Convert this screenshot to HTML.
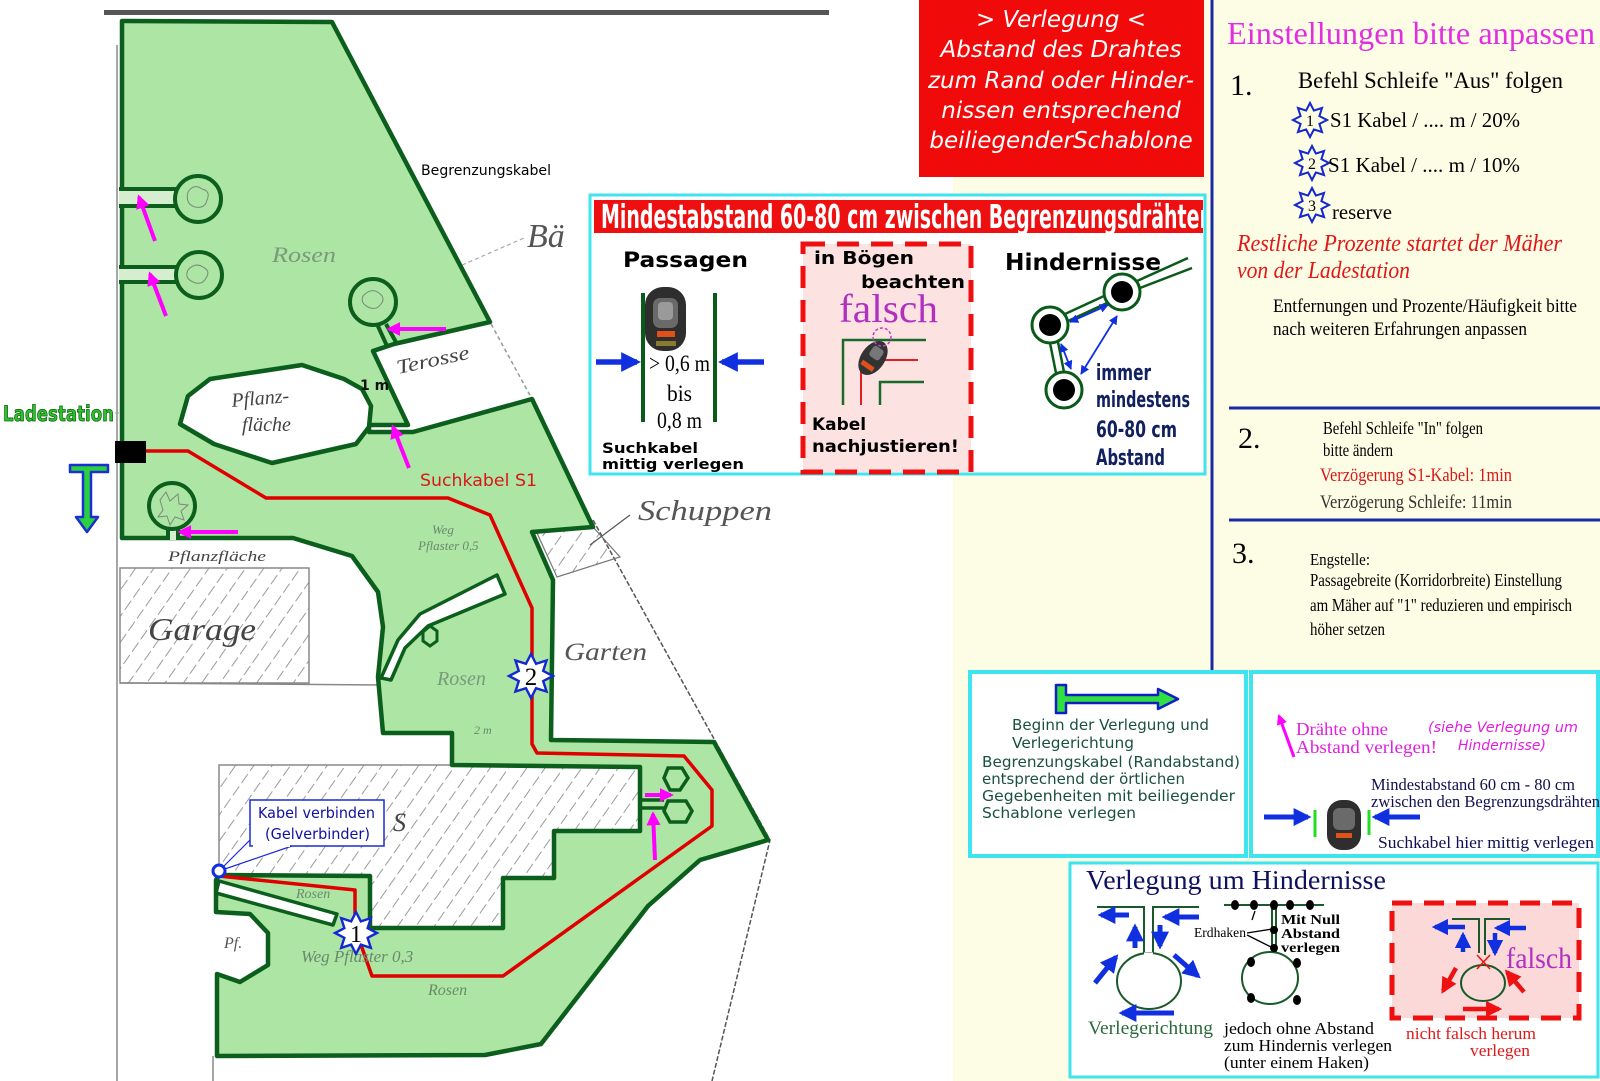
<!DOCTYPE html>
<html><head><meta charset="utf-8"><title>Verlegeplan</title>
<style>
html,body{margin:0;padding:0;background:#fff;width:1600px;height:1081px;overflow:hidden}
svg{display:block}
.hw{font-family:"Liberation Serif",serif;font-style:italic;fill:#666}
.sv{font-family:"DejaVu Sans","Liberation Sans",sans-serif}
.sf{font-family:"Liberation Serif",serif}
</style></head><body>
<svg width="1600" height="1081" viewBox="0 0 1600 1081" xmlns="http://www.w3.org/2000/svg">
<defs>
<pattern id="hatch" patternUnits="userSpaceOnUse" width="15" height="15" patternTransform="rotate(35)">
<line x1="2" y1="0" x2="2" y2="15" stroke="#9a9a9a" stroke-width="1" stroke-dasharray="8,4"/>
</pattern>
<marker id="aM" viewBox="0 0 10 10" refX="8" refY="5" markerWidth="3.5" markerHeight="3.5" orient="auto"><path d="M0,0L10,5L0,10z" fill="#ff00ff"/></marker>
<marker id="aB" viewBox="0 0 10 10" refX="8" refY="5" markerWidth="3.6" markerHeight="3.6" orient="auto"><path d="M0,0L10,5L0,10z" fill="#1030e0"/></marker>
<marker id="aR" viewBox="0 0 10 10" refX="8" refY="5" markerWidth="3.6" markerHeight="3.6" orient="auto"><path d="M0,0L10,5L0,10z" fill="#ee1111"/></marker>
<marker id="aBt" viewBox="0 0 10 10" refX="9" refY="5" markerWidth="5" markerHeight="5" orient="auto-start-reverse"><path d="M0,0L10,5L0,10z" fill="#1030e0"/></marker>
<polygon id="star" points="0,-20 4.59,-11.09 14.14,-14.14 11.09,-4.59 20,0 11.09,4.59 14.14,14.14 4.59,11.09 0,20 -4.59,11.09 -14.14,14.14 -11.09,4.59 -20,0 -11.09,-4.59 -14.14,-14.14 -4.59,-11.09"/>
<clipPath id="cT"><rect x="594" y="200" width="609" height="33"/></clipPath>
</defs>

<!-- backgrounds -->
<rect width="1600" height="1081" fill="#fff"/>
<rect x="953" y="177" width="647" height="904" fill="#fdfce4"/>
<rect x="1204" y="0" width="396" height="177" fill="#fdfce4"/>

<!-- gray bar -->
<rect x="104" y="10" width="725" height="5" fill="#555"/>

<!-- ===== MAP background sketch ===== -->
<line x1="117" y1="45" x2="117" y2="1081" stroke="#888" stroke-width="1.5"/>
<line x1="213" y1="1056" x2="213" y2="1081" stroke="#888" stroke-width="1.5"/>
<polyline points="459,262 490,322 532,399" fill="none" stroke="#999" stroke-width="1.5" stroke-dasharray="4,3"/>
<polyline points="593,520 770,840 712,1081" fill="none" stroke="#555" stroke-width="1.5" stroke-dasharray="5,2"/>
<line x1="398" y1="293" x2="524" y2="238" stroke="#aaa" stroke-width="1.2" stroke-dasharray="4,3"/>
<line x1="115" y1="413" x2="185" y2="413" stroke="#aaa" stroke-width="1.2" stroke-dasharray="4,3"/>
<!-- garage -->
<rect x="120" y="568" width="189" height="115" fill="url(#hatch)" stroke="#888" stroke-width="1.5"/>
<line x1="120" y1="683" x2="383" y2="685" stroke="#888" stroke-width="1.5"/>
<!-- house S -->
<polygon points="219,765 640,765 640,831 554,831 554,878 503,878 503,928 370,928 370,876 219,876" fill="url(#hatch)" stroke="#888" stroke-width="1.5"/>
<!-- schuppen -->
<polygon points="537,533 593,527 620,557 557,577" fill="url(#hatch)" stroke="#777" stroke-width="1.2"/>
<line x1="505" y1="590" x2="553" y2="575" stroke="#777" stroke-width="1.2"/>
<line x1="508" y1="598" x2="553" y2="585" stroke="#777" stroke-width="1.2"/>
<line x1="630" y1="515" x2="590" y2="545" stroke="#555" stroke-width="1.2"/>

<!-- lawn -->
<polygon points="122,21 332,22 490,322 394,344 373,351 408,425 369,425 369,432 413,432 532,399 593,527 532,532 553,580 551,740 714,742 768,840 700,860 648,906 541,1044 485,1055 217,1056 217,974 240,982 268,965 268,933 250,914 216,912 216,880 219,875 370,876 370,928 503,928 503,878 554,878 554,831 640,831 640,767 452,765 452,733 383,733 378,677 383,627 378,592 352,556 293,538 122,538" fill="#ace5a4" stroke="#0b5e1b" stroke-width="4.5" stroke-linejoin="round"/>

<!-- holes -->
<polygon points="180,424 188,396 210,379 302,365 344,379 362,389 371,406 369,427 356,444 272,463 214,444" fill="#fff" stroke="#0b5e1b" stroke-width="4.5" stroke-linejoin="round"/>
<polygon points="219,881 337,914 333,925 216,893" fill="#fff" stroke="#0b5e1b" stroke-width="3.5" stroke-linejoin="round"/>
<polygon points="381,678 398,640 420,614 497,575 505,594 428,626 405,648 391,680" fill="#fff" stroke="#0b5e1b" stroke-width="3.5" stroke-linejoin="round"/>

<!-- tree channels & circles -->
<rect x="119" y="190" width="58" height="15" fill="#d6eed0"/>
<line x1="119" y1="189" x2="177" y2="189" stroke="#0b5e1b" stroke-width="4"/>
<line x1="119" y1="206" x2="177" y2="206" stroke="#0b5e1b" stroke-width="4"/>
<circle cx="198" cy="199" r="23" fill="#ace5a4" stroke="#0b5e1b" stroke-width="4"/>
<rect x="119" y="268" width="58" height="13" fill="#d6eed0"/>
<line x1="119" y1="267" x2="177" y2="267" stroke="#0b5e1b" stroke-width="4"/>
<line x1="119" y1="282" x2="177" y2="282" stroke="#0b5e1b" stroke-width="4"/>
<circle cx="199" cy="275" r="23" fill="#ace5a4" stroke="#0b5e1b" stroke-width="4"/>
<line x1="377" y1="324" x2="387" y2="346" stroke="#0b5e1b" stroke-width="4"/>
<line x1="386" y1="324" x2="397" y2="344" stroke="#0b5e1b" stroke-width="4"/>
<circle cx="373" cy="302" r="23" fill="#ace5a4" stroke="#0b5e1b" stroke-width="4"/>
<line x1="168" y1="527" x2="168" y2="539" stroke="#0b5e1b" stroke-width="4"/>
<line x1="178" y1="527" x2="178" y2="539" stroke="#0b5e1b" stroke-width="4"/>
<rect x="170" y="527" width="6" height="13" fill="#d6eed0"/>
<circle cx="172" cy="506" r="23" fill="#ace5a4" stroke="#0b5e1b" stroke-width="4"/>
<g fill="none" stroke="#7a8a7a" stroke-width="1">
<path d="M188,192 q6,-9 14,-3 q9,2 5,11 q-2,9 -12,7 q-10,-3 -7,-15z"/>
<path d="M188,270 q7,-8 15,-3 q8,4 3,11 q-4,8 -13,4 q-9,-4 -5,-12z"/>
<path d="M363,296 q8,-9 16,-3 q7,5 2,11 q-5,7 -13,3 q-8,-4 -5,-11z"/>
<path d="M160,500 l6,-8 l4,9 l8,-7 l1,10 l9,1 l-7,6 l3,9 l-9,-3 l-5,8 l-3,-9 l-9,1 l5,-7z"/>
</g>
<!-- small hexagons -->
<polygon points="423,632 430,626 437,631 437,641 430,646 423,641" fill="#ace5a4" stroke="#0b5e1b" stroke-width="3"/>
<line x1="640" y1="800" x2="664" y2="800" stroke="#0b5e1b" stroke-width="3.5"/>
<line x1="640" y1="808" x2="664" y2="808" stroke="#0b5e1b" stroke-width="3.5"/>
<polygon points="668,768 682,768 688,778 680,790 670,790 664,778" fill="#ace5a4" stroke="#0b5e1b" stroke-width="3.5"/>
<polygon points="668,801 686,801 692,811 686,822 670,822 664,811" fill="#ace5a4" stroke="#0b5e1b" stroke-width="3.5"/>

<!-- red search cable -->
<polyline points="146,451 188,451 266,498 448,498 490,515 532,608 532,744 537,753 684,756 712,790 712,826 503,976 372,976 355,928 355,890 219,876" fill="none" stroke="#e00000" stroke-width="3.5" stroke-linejoin="round"/>

<!-- charging station -->
<rect x="115" y="441" width="31" height="22" fill="#000"/>
<text x="3" y="421" class="sv" font-size="21" font-weight="bold" fill="#2ec02e" stroke="#0c600c" stroke-width="0.8" textLength="111" lengthAdjust="spacingAndGlyphs">Ladestation</text>
<polygon points="70,465 108,465 108,472 91,472 91,517 98,517 87,532 76,517 83,517 83,472 70,472" fill="#2ad040" stroke="#1a30d0" stroke-width="2.5" stroke-linejoin="round"/>

<!-- pink arrows -->
<g stroke="#ff00ff" stroke-width="4" marker-end="url(#aM)">
<line x1="155" y1="241" x2="139" y2="197"/>
<line x1="166" y1="316" x2="150" y2="274"/>
<line x1="446" y1="329" x2="389" y2="329"/>
<line x1="409" y1="468" x2="393" y2="427"/>
<line x1="238" y1="532" x2="180" y2="532"/>
<line x1="645" y1="795" x2="671" y2="795"/>
<line x1="655" y1="860" x2="653" y2="814"/>
</g>

<!-- stars on map -->
<use href="#star" transform="translate(356,933) scale(1.05)" fill="#fff" stroke="#1428d0" stroke-width="2.3"/>
<text x="356" y="942" class="sf" font-size="24" text-anchor="middle">1</text>
<use href="#star" transform="translate(531,676) scale(1.1)" fill="#fff" stroke="#1428d0" stroke-width="2.2"/>
<text x="531" y="685" class="sf" font-size="25" text-anchor="middle">2</text>

<!-- Kabel verbinden callout -->
<polygon points="252,838 219,871 292,846" fill="#fff" stroke="#1a2ad0" stroke-width="1.2"/>
<rect x="250" y="800" width="134" height="46" fill="#fff" stroke="#1a2ad0" stroke-width="1.5"/>
<line x1="253" y1="846" x2="290" y2="846" stroke="#fff" stroke-width="2"/>
<text x="258" y="818" class="sv" font-size="15" fill="#1010a0" textLength="117" lengthAdjust="spacingAndGlyphs">Kabel verbinden</text>
<text x="265" y="839" class="sv" font-size="15" fill="#1010a0" textLength="105" lengthAdjust="spacingAndGlyphs">(Gelverbinder)</text>
<circle cx="219" cy="871" r="6" fill="#fff" stroke="#1030e0" stroke-width="3"/>

<!-- map labels -->
<text x="421" y="175" class="sv" font-size="14" fill="#000" textLength="130" lengthAdjust="spacingAndGlyphs">Begrenzungskabel</text>
<text x="420" y="486" class="sv" font-size="17" fill="#d81818" textLength="117" lengthAdjust="spacingAndGlyphs">Suchkabel S1</text>
<text x="360" y="390" class="sv" font-size="14" font-weight="bold" fill="#111">1 m</text>
<text x="272" y="262" class="hw" font-size="22" style="fill:#7a9a7a" textLength="64" lengthAdjust="spacingAndGlyphs">Rosen</text>
<text x="527" y="247" class="hw" font-size="34" style="fill:#555">Bä</text>
<text x="398" y="374" class="hw" font-size="20" transform="rotate(-12 398 374)" style="fill:#444" textLength="74" lengthAdjust="spacingAndGlyphs">Terosse</text>
<text x="232" y="407" class="hw" font-size="20" transform="rotate(-5 232 407)" style="fill:#444">Pflanz-</text>
<text x="242" y="431" class="hw" font-size="20" style="fill:#444">fläche</text>
<text x="168" y="561" class="hw" font-size="15" style="fill:#444" textLength="98" lengthAdjust="spacingAndGlyphs">Pflanzfläche</text>
<text x="148" y="640" class="hw" font-size="32" style="fill:#444" textLength="108" lengthAdjust="spacingAndGlyphs">Garage</text>
<text x="432" y="534" class="hw" font-size="13" style="fill:#6a8a6a">Weg</text>
<text x="418" y="550" class="hw" font-size="13" style="fill:#6a8a6a">Pflaster 0,5</text>
<text x="638" y="520" class="hw" font-size="28" style="fill:#555" textLength="134" lengthAdjust="spacingAndGlyphs">Schuppen</text>
<text x="564" y="660" class="hw" font-size="25" style="fill:#555" textLength="83" lengthAdjust="spacingAndGlyphs">Garten</text>
<text x="437" y="685" class="hw" font-size="20" style="fill:#7a9a7a">Rosen</text>
<text x="474" y="734" class="hw" font-size="12" style="fill:#6a8a6a">2 m</text>
<text x="393" y="831" class="hw" font-size="26" style="fill:#444">S</text>
<text x="296" y="898" class="hw" font-size="14" style="fill:#6a8a6a">Rosen</text>
<text x="301" y="962" class="hw" font-size="17" style="fill:#6a8a6a">Weg Pflaster 0,3</text>
<text x="428" y="995" class="hw" font-size="16" style="fill:#6a8a6a">Rosen</text>
<text x="224" y="948" class="hw" font-size="16" style="fill:#555">Pf.</text>

<!-- ===== Red top box ===== -->
<rect x="919" y="0" width="285" height="177" fill="#f00a0a"/>
<g class="sv" font-style="oblique" font-size="23" fill="#fff" text-anchor="middle">
<text x="1061" y="27">&gt; Verlegung &lt;</text>
<text x="1061" y="57">Abstand des Drahtes</text>
<text x="1061" y="88">zum Rand oder Hinder-</text>
<text x="1061" y="118">nissen entsprechend</text>
<text x="1061" y="148">beiliegenderSchablone</text>
</g>

<!-- ===== Mindestabstand box ===== -->
<rect x="590" y="195" width="615" height="279" fill="#fff" stroke="#40e4ee" stroke-width="3"/>
<rect x="594" y="200" width="609" height="33" fill="#ee1010"/>
<text x="601" y="228" class="sv" font-size="33" font-weight="bold" fill="#fff" clip-path="url(#cT)" textLength="612" lengthAdjust="spacingAndGlyphs">Mindestabstand 60-80 cm zwischen Begrenzungsdrähten</text>

<!-- Passagen -->
<text x="623" y="267" class="sv" font-size="21" font-weight="bold" fill="#000" textLength="125" lengthAdjust="spacingAndGlyphs">Passagen</text>
<line x1="643" y1="293" x2="643" y2="422" stroke="#0a5a1a" stroke-width="4"/>
<line x1="715" y1="293" x2="715" y2="422" stroke="#0a5a1a" stroke-width="4"/>
<rect x="645" y="287" width="41" height="64" rx="18" fill="#2e2e2e"/>
<rect x="653" y="298" width="25" height="30" rx="7" fill="#6a6a6a"/>
<rect x="658" y="302" width="15" height="18" rx="4" fill="#9a9a9a"/>
<rect x="657" y="331" width="18" height="6" fill="#e0501a"/>
<rect x="656" y="341" width="20" height="5" fill="#8a7a30"/>
<line x1="596" y1="362" x2="637" y2="362" stroke="#1030e0" stroke-width="5.5" marker-end="url(#aB)"/>
<line x1="764" y1="362" x2="722" y2="362" stroke="#1030e0" stroke-width="5.5" marker-end="url(#aB)"/>
<text x="649" y="371" class="sf" font-size="23" textLength="61" lengthAdjust="spacingAndGlyphs">&gt; 0,6 m</text>
<text x="667" y="401" class="sf" font-size="23" textLength="25" lengthAdjust="spacingAndGlyphs">bis</text>
<text x="657" y="428" class="sf" font-size="23" textLength="45" lengthAdjust="spacingAndGlyphs">0,8 m</text>
<text x="602" y="453" class="sv" font-size="14.5" font-weight="bold" textLength="96" lengthAdjust="spacingAndGlyphs">Suchkabel</text>
<text x="602" y="469" class="sv" font-size="14.5" font-weight="bold" textLength="142" lengthAdjust="spacingAndGlyphs">mittig verlegen</text>

<!-- in Bögen -->
<rect x="803" y="244" width="168" height="228" fill="#fde2e2" stroke="#ee1010" stroke-width="5" stroke-dasharray="22,12"/>
<text x="814" y="264" class="sv" font-size="18" font-weight="bold" textLength="100" lengthAdjust="spacingAndGlyphs">in Bögen</text>
<text x="861" y="288" class="sv" font-size="18" font-weight="bold" textLength="104" lengthAdjust="spacingAndGlyphs">beachten</text>
<text x="839" y="322" class="sf" font-size="40" fill="#b030c0" textLength="99" lengthAdjust="spacingAndGlyphs">falsch</text>
<polyline points="843,405 843,340 926,340" fill="none" stroke="#1a6a2a" stroke-width="2.5"/>
<path d="M861,405 L861,366 Q861,360 867,360 L918,360" fill="none" stroke="#e02020" stroke-width="2"/>
<polyline points="880,405 880,382 924,382" fill="none" stroke="#1a6a2a" stroke-width="2.5"/>
<g transform="rotate(35 873 358)">
<ellipse cx="873" cy="358" rx="12" ry="19" fill="#333"/>
<rect x="866" y="365" width="14" height="5" fill="#e0501a"/>
<rect x="867" y="346" width="12" height="12" rx="3" fill="#777"/>
</g>
<circle cx="882" cy="337" r="9" fill="none" stroke="#c040c0" stroke-width="1.5" stroke-dasharray="3,2"/>
<text x="812" y="430" class="sv" font-size="17" font-weight="bold" textLength="54" lengthAdjust="spacingAndGlyphs">Kabel</text>
<text x="812" y="452" class="sv" font-size="17" font-weight="bold" textLength="147" lengthAdjust="spacingAndGlyphs">nachjustieren!</text>

<!-- Hindernisse -->
<text x="1005" y="270" class="sv" font-size="23" font-weight="bold" textLength="156" lengthAdjust="spacingAndGlyphs">Hindernisse</text>
<g stroke="#0a5a1a" stroke-width="2.5" fill="none">
<line x1="1068" y1="321" x2="1107" y2="303"/>
<line x1="1065" y1="314" x2="1104" y2="296"/>
<line x1="1058" y1="342" x2="1064" y2="372"/>
<line x1="1050" y1="343" x2="1056" y2="373"/>
<line x1="1140" y1="288" x2="1192" y2="268"/>
<line x1="1137" y1="281" x2="1188" y2="258"/>
</g>
<g fill="#fff" stroke="#0a5a1a" stroke-width="3">
<circle cx="1050" cy="325" r="18"/>
<circle cx="1122" cy="292" r="18"/>
<circle cx="1064" cy="390" r="18"/>
</g>
<circle cx="1050" cy="325" r="11" fill="#000"/>
<circle cx="1122" cy="292" r="11" fill="#000"/>
<circle cx="1064" cy="390" r="11" fill="#000"/>
<g stroke="#1030e0" stroke-width="1.8" marker-start="url(#aBt)" marker-end="url(#aBt)">
<line x1="1070" y1="322" x2="1108" y2="305"/>
<line x1="1061" y1="344" x2="1071" y2="369"/>
<line x1="1081" y1="374" x2="1117" y2="316"/>
</g>
<g class="sv" font-size="22" font-weight="bold" fill="#102060">
<text x="1096" y="380" textLength="55" lengthAdjust="spacingAndGlyphs">immer</text>
<text x="1096" y="407" textLength="94" lengthAdjust="spacingAndGlyphs">mindestens</text>
<text x="1096" y="437" textLength="81" lengthAdjust="spacingAndGlyphs">60-80 cm</text>
<text x="1096" y="465" textLength="69" lengthAdjust="spacingAndGlyphs">Abstand</text>
</g>

<!-- ===== Right panel ===== -->
<line x1="1212" y1="0" x2="1212" y2="672" stroke="#1a2aa0" stroke-width="3"/>
<text x="1227" y="44" class="sf" font-size="32" fill="#e02ee0" textLength="368" lengthAdjust="spacingAndGlyphs">Einstellungen bitte anpassen</text>
<text x="1230" y="95" class="sf" font-size="30">1.</text>
<text x="1298" y="88" class="sf" font-size="23" textLength="265" lengthAdjust="spacingAndGlyphs">Befehl Schleife "Aus" folgen</text>
<use href="#star" transform="translate(1310,120) scale(0.85)" fill="#fdfce4" stroke="#1428d0" stroke-width="2.4"/>
<text x="1310" y="126" class="sf" font-size="16" text-anchor="middle">1</text>
<text x="1330" y="127" class="sf" font-size="21" textLength="190" lengthAdjust="spacingAndGlyphs">S1 Kabel / .... m / 20%</text>
<use href="#star" transform="translate(1312,163) scale(0.85)" fill="#fdfce4" stroke="#1428d0" stroke-width="2.4"/>
<text x="1312" y="169" class="sf" font-size="16" text-anchor="middle">2</text>
<text x="1328" y="172" class="sf" font-size="21" textLength="192" lengthAdjust="spacingAndGlyphs">S1 Kabel / .... m / 10%</text>
<use href="#star" transform="translate(1312,205) scale(0.85)" fill="#fdfce4" stroke="#1428d0" stroke-width="2.4"/>
<text x="1312" y="211" class="sf" font-size="16" text-anchor="middle">3</text>
<text x="1332" y="219" class="sf" font-size="21" textLength="60" lengthAdjust="spacingAndGlyphs">reserve</text>
<text x="1237" y="251" class="sf" font-size="24" font-style="italic" fill="#e01818" textLength="325" lengthAdjust="spacingAndGlyphs">Restliche Prozente  startet der Mäher</text>
<text x="1237" y="278" class="sf" font-size="24" font-style="italic" fill="#e01818" textLength="173" lengthAdjust="spacingAndGlyphs">von der Ladestation</text>
<text x="1273" y="312" class="sf" font-size="19" textLength="304" lengthAdjust="spacingAndGlyphs">Entfernungen und Prozente/Häufigkeit bitte</text>
<text x="1273" y="335" class="sf" font-size="19" textLength="254" lengthAdjust="spacingAndGlyphs">nach weiteren Erfahrungen anpassen</text>

<line x1="1229" y1="408" x2="1600" y2="408" stroke="#1a2aa0" stroke-width="3"/>
<text x="1238" y="448" class="sf" font-size="30">2.</text>
<text x="1323" y="434" class="sf" font-size="18" textLength="160" lengthAdjust="spacingAndGlyphs">Befehl Schleife "In" folgen</text>
<text x="1323" y="456" class="sf" font-size="18" textLength="70" lengthAdjust="spacingAndGlyphs">bitte ändern</text>
<text x="1320" y="481" class="sf" font-size="19" fill="#d81818" textLength="192" lengthAdjust="spacingAndGlyphs">Verzögerung S1-Kabel: 1min</text>
<text x="1320" y="508" class="sf" font-size="19" fill="#333" textLength="192" lengthAdjust="spacingAndGlyphs">Verzögerung Schleife: 11min</text>
<line x1="1229" y1="520" x2="1600" y2="520" stroke="#1a2aa0" stroke-width="3"/>
<text x="1232" y="563" class="sf" font-size="30">3.</text>
<text x="1310" y="565" class="sf" font-size="17" textLength="60" lengthAdjust="spacingAndGlyphs">Engstelle:</text>
<text x="1310" y="586" class="sf" font-size="18" textLength="252" lengthAdjust="spacingAndGlyphs">Passagebreite (Korridorbreite) Einstellung</text>
<text x="1310" y="611" class="sf" font-size="18" textLength="262" lengthAdjust="spacingAndGlyphs">am Mäher auf "1" reduzieren und empirisch</text>
<text x="1310" y="635" class="sf" font-size="18" textLength="75" lengthAdjust="spacingAndGlyphs">höher setzen</text>

<!-- ===== Bottom boxes ===== -->
<rect x="970" y="672" width="276" height="184" fill="#fff" stroke="#3ee4ee" stroke-width="4"/>
<polygon points="1056,685 1066,685 1066,695 1158,695 1158,689 1178,699 1158,709 1158,703 1066,703 1066,713 1056,713" fill="#30e040" stroke="#1020c0" stroke-width="2.5" stroke-linejoin="round"/>
<g class="sv" font-size="15" fill="#1a5040">
<text x="1012" y="730" textLength="197" lengthAdjust="spacingAndGlyphs">Beginn der Verlegung und</text>
<text x="1012" y="748" textLength="122" lengthAdjust="spacingAndGlyphs">Verlegerichtung</text>
<text x="982" y="767" textLength="258" lengthAdjust="spacingAndGlyphs">Begrenzungskabel (Randabstand)</text>
<text x="982" y="784" textLength="203" lengthAdjust="spacingAndGlyphs">entsprechend der örtlichen</text>
<text x="982" y="801" textLength="253" lengthAdjust="spacingAndGlyphs">Gegebenheiten mit beiliegender</text>
<text x="982" y="818" textLength="154" lengthAdjust="spacingAndGlyphs">Schablone verlegen</text>
</g>

<rect x="1251" y="672" width="347" height="184" fill="#fff" stroke="#3ee4ee" stroke-width="4"/>
<line x1="1294" y1="757" x2="1279" y2="716" stroke="#ff00ff" stroke-width="3" marker-end="url(#aM)"/>
<text x="1296" y="735" class="sf" font-size="18" fill="#e020e0" textLength="92" lengthAdjust="spacingAndGlyphs">Drähte ohne</text>
<text x="1296" y="753" class="sf" font-size="18" fill="#e020e0" textLength="141" lengthAdjust="spacingAndGlyphs">Abstand verlegen!</text>
<text x="1428" y="732" class="sv" font-size="14" font-style="oblique" fill="#e020e0" textLength="150" lengthAdjust="spacingAndGlyphs">(siehe Verlegung um</text>
<text x="1458" y="750" class="sv" font-size="14" font-style="oblique" fill="#e020e0" textLength="88" lengthAdjust="spacingAndGlyphs">Hindernisse)</text>
<text x="1371" y="790" class="sf" font-size="17" fill="#101050" textLength="204" lengthAdjust="spacingAndGlyphs">Mindestabstand 60 cm - 80 cm</text>
<text x="1371" y="807" class="sf" font-size="17" fill="#101050" textLength="229" lengthAdjust="spacingAndGlyphs">zwischen den Begrenzungsdrähten</text>
<text x="1378" y="848" class="sf" font-size="17" fill="#101050" textLength="216" lengthAdjust="spacingAndGlyphs">Suchkabel hier mittig verlegen</text>
<line x1="1264" y1="817" x2="1308" y2="817" stroke="#1030e0" stroke-width="5" marker-end="url(#aB)"/>
<line x1="1420" y1="817" x2="1375" y2="817" stroke="#1030e0" stroke-width="5" marker-end="url(#aB)"/>
<line x1="1315" y1="810" x2="1315" y2="837" stroke="#22dd22" stroke-width="3"/>
<line x1="1369" y1="810" x2="1369" y2="835" stroke="#22dd22" stroke-width="3"/>
<rect x="1327" y="800" width="34" height="50" rx="15" fill="#2e2e2e"/>
<rect x="1333" y="808" width="22" height="22" rx="6" fill="#6a6a6a"/>
<rect x="1336" y="833" width="16" height="5" fill="#e0501a"/>

<!-- Verlegung um Hindernisse -->
<rect x="1070" y="863" width="528" height="214" fill="#fff" stroke="#3ee4ee" stroke-width="3"/>
<text x="1086" y="889" class="sf" font-size="27" fill="#101060" textLength="300" lengthAdjust="spacingAndGlyphs">Verlegung um Hindernisse</text>
<!-- diagram 1 -->
<g stroke="#1a5a2a" stroke-width="2" fill="none">
<polyline points="1097,907 1144,907 1144,954"/>
<polyline points="1199,907 1153,907 1153,954"/>
<ellipse cx="1149" cy="981" rx="32" ry="28"/>
</g>
<line x1="1144" y1="954" x2="1153" y2="954" stroke="#fff" stroke-width="3"/>
<g stroke="#1030e0" stroke-width="5" marker-end="url(#aB)">
<line x1="1129" y1="915" x2="1101" y2="915"/>
<line x1="1199" y1="917" x2="1165" y2="917"/>
<line x1="1135" y1="948" x2="1135" y2="927"/>
<line x1="1160" y1="925" x2="1160" y2="946"/>
<line x1="1095" y1="983" x2="1116" y2="957"/>
<line x1="1174" y1="955" x2="1198" y2="976"/>
<line x1="1174" y1="1013" x2="1122" y2="1013"/>
</g>
<text x="1088" y="1034" class="sf" font-size="19" fill="#2a6a3a" textLength="125" lengthAdjust="spacingAndGlyphs">Verlegerichtung</text>
<!-- diagram 2 -->
<g stroke="#1a5a2a" stroke-width="2" fill="none">
<line x1="1224" y1="905" x2="1324" y2="905"/>
<line x1="1272" y1="905" x2="1272" y2="952"/>
<line x1="1276" y1="905" x2="1276" y2="952"/>
<ellipse cx="1270" cy="978" rx="28" ry="26"/>
</g>
<g fill="#000">
<ellipse cx="1235" cy="905" rx="4" ry="5"/>
<ellipse cx="1254" cy="905" rx="4" ry="5"/>
<ellipse cx="1274" cy="905" rx="4" ry="5"/>
<ellipse cx="1290" cy="905" rx="4" ry="5"/>
<ellipse cx="1310" cy="905" rx="4" ry="5"/>
<ellipse cx="1274" cy="930" rx="4" ry="4"/>
<ellipse cx="1274" cy="948" rx="4" ry="4"/>
<ellipse cx="1251" cy="962" rx="4" ry="5"/>
<ellipse cx="1297" cy="963" rx="4" ry="5"/>
<ellipse cx="1251" cy="998" rx="4" ry="5"/>
<ellipse cx="1297" cy="1000" rx="4" ry="5"/>
</g>
<g stroke="#000" stroke-width="1.3">
<line x1="1247" y1="933" x2="1272" y2="929"/>
<line x1="1247" y1="935" x2="1271" y2="947"/>
<line x1="1252" y1="920" x2="1255" y2="911"/>
</g>
<text x="1194" y="937" class="sf" font-size="14" textLength="52" lengthAdjust="spacingAndGlyphs">Erdhaken</text>
<text x="1281" y="924" class="sf" font-size="14" font-weight="bold" textLength="59" lengthAdjust="spacingAndGlyphs">Mit Null</text>
<text x="1281" y="938" class="sf" font-size="14" font-weight="bold" textLength="59" lengthAdjust="spacingAndGlyphs">Abstand</text>
<text x="1281" y="952" class="sf" font-size="14" font-weight="bold" textLength="59" lengthAdjust="spacingAndGlyphs">verlegen</text>
<text x="1224" y="1034" class="sf" font-size="17" textLength="150" lengthAdjust="spacingAndGlyphs">jedoch ohne Abstand</text>
<text x="1224" y="1051" class="sf" font-size="17" textLength="168" lengthAdjust="spacingAndGlyphs">zum Hindernis verlegen</text>
<text x="1224" y="1068" class="sf" font-size="17" textLength="145" lengthAdjust="spacingAndGlyphs">(unter einem Haken)</text>
<!-- diagram 3 (falsch) -->
<rect x="1392" y="903" width="187" height="115" fill="#fbd9d9" stroke="#ee1010" stroke-width="5" stroke-dasharray="20,12"/>
<g stroke="#1a5a2a" stroke-width="2" fill="none">
<polyline points="1452,919 1479,919 1479,953"/>
<polyline points="1510,919 1485,919 1485,955"/>
<ellipse cx="1483" cy="983" rx="22" ry="18"/>
</g>
<g stroke="#ee1111" stroke-width="1.5">
<line x1="1477" y1="955" x2="1490" y2="969"/>
<line x1="1490" y1="955" x2="1477" y2="969"/>
</g>
<g stroke="#1030e0" stroke-width="4.5" marker-end="url(#aB)">
<line x1="1465" y1="927" x2="1435" y2="927"/>
<line x1="1526" y1="928" x2="1497" y2="928"/>
<line x1="1463" y1="952" x2="1463" y2="935"/>
<line x1="1495" y1="933" x2="1495" y2="953"/>
</g>
<g stroke="#ee1111" stroke-width="4.5" marker-end="url(#aR)">
<line x1="1456" y1="968" x2="1443" y2="991"/>
<line x1="1524" y1="992" x2="1507" y2="972"/>
<line x1="1463" y1="1009" x2="1499" y2="1009"/>
</g>
<text x="1506" y="968" class="sf" font-size="30" fill="#b030c0" textLength="66" lengthAdjust="spacingAndGlyphs">falsch</text>
<text x="1406" y="1039" class="sf" font-size="17" fill="#e01818" textLength="130" lengthAdjust="spacingAndGlyphs">nicht falsch herum</text>
<text x="1470" y="1056" class="sf" font-size="17" fill="#e01818" textLength="60" lengthAdjust="spacingAndGlyphs">verlegen</text>
</svg>
</body></html>
